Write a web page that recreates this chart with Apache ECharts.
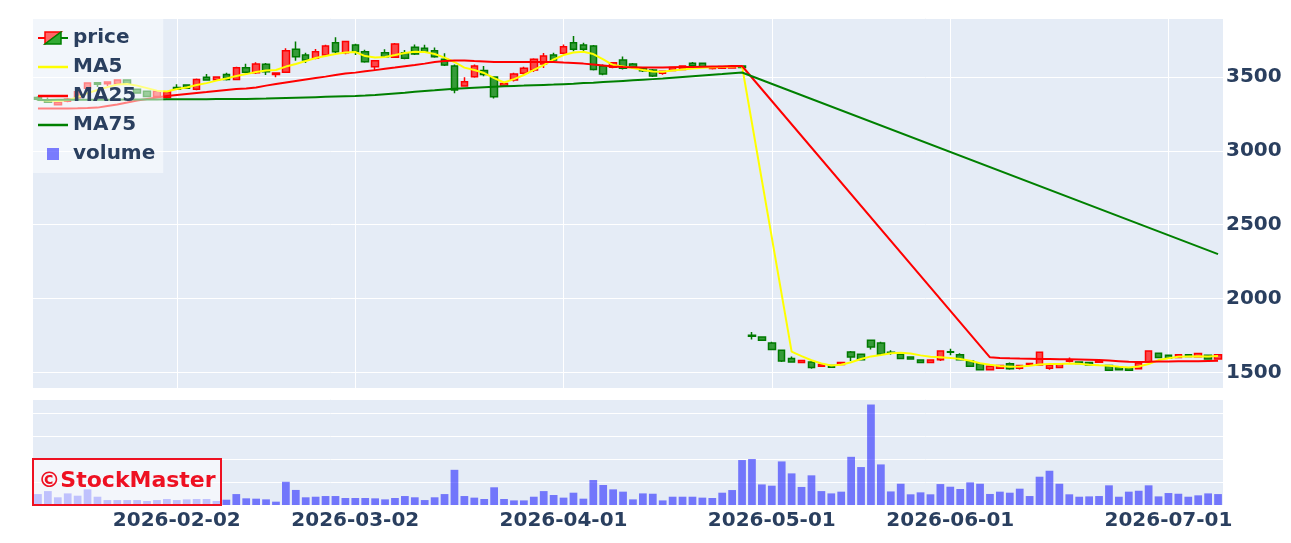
<!DOCTYPE html>
<html>
<head>
<meta charset="utf-8">
<title>StockMaster</title>
<script src="https://cdn.jsdelivr.net/npm/echarts@6/dist/echarts.min.js"></script>
<style>
    html, body { margin: 0; padding: 0; background: #fff; }
    #chart { width: 1291px; height: 543px; }
</style>
</head>
<body>
<div id="chart"></div>
<script>
// trading days (weekends and holidays are not on the axis)
var dates = [
    '2026-01-13','2026-01-14','2026-01-15','2026-01-16','2026-01-19','2026-01-20','2026-01-21','2026-01-22','2026-01-23','2026-01-26','2026-01-27','2026-01-28','2026-01-29','2026-01-30',
    '2026-02-02','2026-02-03','2026-02-04','2026-02-05','2026-02-06','2026-02-09','2026-02-10','2026-02-12','2026-02-13','2026-02-16','2026-02-17','2026-02-18','2026-02-19','2026-02-20','2026-02-24','2026-02-25','2026-02-26','2026-02-27',
    '2026-03-02','2026-03-03','2026-03-04','2026-03-05','2026-03-06','2026-03-09','2026-03-10','2026-03-11','2026-03-12','2026-03-13','2026-03-16','2026-03-17','2026-03-18','2026-03-19','2026-03-23','2026-03-24','2026-03-25','2026-03-26','2026-03-27','2026-03-30','2026-03-31',
    '2026-04-01','2026-04-02','2026-04-03','2026-04-06','2026-04-07','2026-04-08','2026-04-09','2026-04-10','2026-04-13','2026-04-14','2026-04-15','2026-04-16','2026-04-17','2026-04-20','2026-04-21','2026-04-22','2026-04-23','2026-04-24','2026-04-27','2026-04-28','2026-04-30',
    '2026-05-01','2026-05-07','2026-05-08','2026-05-11','2026-05-12','2026-05-13','2026-05-14','2026-05-15','2026-05-18','2026-05-19','2026-05-20','2026-05-21','2026-05-22','2026-05-25','2026-05-26','2026-05-27','2026-05-28','2026-05-29',
    '2026-06-01','2026-06-02','2026-06-03','2026-06-04','2026-06-05','2026-06-08','2026-06-09','2026-06-10','2026-06-11','2026-06-12','2026-06-15','2026-06-16','2026-06-17','2026-06-18','2026-06-19','2026-06-22','2026-06-23','2026-06-24','2026-06-25','2026-06-26','2026-06-29','2026-06-30',
    '2026-07-01','2026-07-02','2026-07-03','2026-07-06','2026-07-07','2026-07-08'
];
var tickDates = ['2026-02-02', '2026-03-02', '2026-04-01', '2026-05-01', '2026-06-01', '2026-07-01'];

var opens = [
    3362,3345,3312,3336,3360,3425,3462,3455,3455,3480, 3418,3404,3368,3362,3430,3446,3417,3498,3482,3518,
    3484,3563,3530,3586,3518,3532,3688,3650,3627,3650, 3733,3665,3717,3672,3570,3665,3634,3665,3702,3695,
    3678,3620,3575,3439,3502,3545,3500,3439,3480,3525, 3547,3588,3650,3661,3733,3717,3710,3575,3566,3615,
    3588,3559,3548,3525,3545,3552,3593,3593,3558,3560, 3562,3575,1752,1740,1699,1649,1593,1566,1570,1541,
    1547,1554,1638,1622,1717,1699,1636,1622,1604,1584, 1566,1586,1640,1620,1577,1559,1518,1527,1559,1527,
    1550,1550,1527,1532,1575,1570,1566,1568,1547,1532, 1530,1525,1570,1630,1615,1600,1620,1605,1615,1590
];
var closes = [
    3350,3330,3328,3352,3400,3460,3452,3466,3480,3452, 3392,3368,3404,3400,3417,3424,3484,3480,3500,3484,
    3563,3532,3588,3536,3528,3678,3638,3615,3672,3710, 3672,3740,3672,3604,3611,3638,3724,3627,3656,3672,
    3638,3582,3412,3468,3575,3517,3366,3457,3520,3559, 3620,3642,3615,3706,3688,3688,3552,3520,3597,3559,
    3566,3543,3507,3539,3565,3575,3577,3566,3570,3572, 3574,3565,1745,1717,1654,1577,1570,1581,1532,1554,
    1535,1566,1604,1586,1672,1622,1632,1593,1590,1566, 1584,1644,1636,1586,1541,1518,1541,1547,1525,1547,
    1560,1636,1550,1559,1580,1560,1550,1578,1514,1518, 1514,1563,1644,1600,1595,1620,1608,1627,1590,1620
];
var lows = [
    3340,3326,3308,3330,3355,3420,3432,3440,3450,3448, 3388,3364,3364,3355,3412,3420,3410,3476,3478,3476,
    3478,3525,3520,3514,3498,3528,3610,3595,3620,3640, 3661,3655,3650,3597,3547,3630,3630,3620,3650,3665,
    3630,3575,3390,3435,3495,3505,3355,3435,3470,3515, 3534,3561,3600,3655,3675,3675,3545,3513,3560,3552,
    3555,3534,3500,3515,3540,3548,3574,3562,3552,3555, 3558,3560,1722,1712,1650,1570,1566,1562,1525,1537,
    1532,1550,1577,1582,1654,1615,1620,1588,1586,1562, 1562,1577,1615,1580,1536,1514,1514,1522,1518,1520,
    1545,1545,1518,1528,1566,1556,1546,1564,1510,1514, 1510,1520,1565,1596,1592,1596,1604,1600,1586,1586
];
var highs = [
    3370,3362,3332,3358,3405,3465,3466,3470,3485,3484, 3422,3408,3408,3404,3452,3450,3490,3520,3504,3530,
    3570,3590,3600,3595,3531,3695,3740,3665,3690,3718, 3769,3745,3725,3685,3615,3688,3730,3683,3720,3718,
    3700,3661,3585,3498,3585,3575,3505,3468,3530,3570, 3627,3663,3665,3720,3778,3732,3717,3585,3600,3640,
    3595,3562,3555,3542,3568,3580,3602,3598,3574,3576, 3578,3580,1773,1745,1708,1655,1608,1584,1580,1557,
    1550,1570,1645,1628,1722,1708,1650,1630,1608,1588, 1588,1650,1660,1630,1582,1562,1545,1552,1566,1550,
    1565,1640,1554,1562,1600,1574,1570,1582,1552,1536, 1534,1566,1648,1634,1618,1624,1624,1632,1618,1624
];
var volumes = [
    95,121,67,101,81,136,72,43,43,43, 43,35,43,52,43,49,52,52,35,46,
    95,58,55,49,29,202,131,67,72,78, 78,61,61,61,58,49,61,78,67,43,
    67,95,306,78,64,52,154,52,40,40, 72,121,87,64,107,55,217,174,136,116,
    49,101,98,40,72,72,72,64,61,107, 130,391,400,179,168,379,275,157,258,121,
    101,116,419,330,874,353,118,185,93,110, 93,182,159,139,197,185,96,116,107,142,
    78,246,298,185,93,72,75,78,171,72, 116,124,171,75,104,98,72,84,101,95
];
// moving averages (null where the line is drawn straight across)
var ma5 = [
    3344,3341,3337,3344,3364,3391,3412,3432,3449,3453, 3442,3425,3408,3402,3419,3429,3446,3459,3476,3490,
    3507,3520,3534,3544,3548,3571,3588,3609,3629,3642, 3656,3666,3670,3642,3632,3636,3649,3663,3672,3670,
    3656,3632,3602,3564,3548,3527,3493,3463,3486,3514, 3548,3581,3619,3649,3666,3671,3656,3619,3581,3571,
    3561,3548,3537,3536,3544,3551,3558,3563,3566,3568, 3571,3575,null,null,null,null,1640,1610,1582,1560,
    1546,1552,1568,1590,1608,1618,1630,1632,1627,1615, 1606,1602,1598,1590,1578,1562,1551,1543,1538,1540,
    1545,1553,1556,1557,1560,1558,1552,1548,1545,1538, 1533,1540,1556,1583,1596,1605,1607,1609,1608,1610
];
var ma25 = [
    3287,3287,3287,3287,3288,3290,3293,3304,3314,3327, 3341,3351,3361,3371,3378,3385,3392,3398,3405,3412,
    3419,3423,3430,3442,3453,3463,3473,3483,3493,3503, 3514,3524,3530,3539,3547,3556,3564,3573,3581,3591,
    3602,3608,3612,3612,3608,3605,3602,3602,3602,3602, 3602,3602,3602,3598,3595,3591,3585,3578,3571,3568,
    3566,3564,3564,3564,3566,3568,3568,3570,3571,3572, 3575,3575,null,null,null,null,null,null,null,null,
    null,null,null,null,null,null,null,null,null,null, null,null,null,null,null,null,1602,1598,1595,1593,
    1592,1590,1590,1589,1588,1587,1586,1584,1580,1576, 1572,1570,1571,1573,1574,1575,1576,1576,1577,1578
];
var ma75 = [
    3345,3345,3346,3346,3346,3347,3347,3347,3347,3348, 3348,3348,3348,3349,3349,3349,3350,3350,3351,3351,
    3352,3352,3353,3354,3356,3358,3360,3362,3364,3366, 3368,3370,3372,3375,3379,3384,3389,3394,3400,3405,
    3410,3416,3421,3425,3428,3431,3434,3437,3440,3442, 3445,3447,3449,3452,3455,3459,3462,3466,3470,3474,
    3478,3482,3486,3490,3495,3500,3505,3510,3515,3520, 3526,3531,null,null,null,null,null,null,null,null,
    null,null,null,null,null,null,null,null,null,null, null,null,null,null,null,null,null,null,null,null,
    null,null,null,null,null,null,null,null,null,null, null,null,null,null,null,null,null,null,null,2301
];

var FONT = 'DejaVu Sans';
var INK = '#2a3f5f';

function svgIcon(body) {
    return 'image://data:image/svg+xml;charset=utf-8,' + encodeURIComponent(
        '<svg xmlns="http://www.w3.org/2000/svg" width="30" height="14" viewBox="0 0 30 14">' + body + '</svg>');
}
var priceIcon = svgIcon(
    '<line x1="0" y1="7" x2="7" y2="7" stroke="#ff0000" stroke-width="2"/>' +
    '<line x1="23" y1="7" x2="30" y2="7" stroke="#008000" stroke-width="2"/>' +
    '<polygon points="7,1 23,1 7,13" fill="#f66" stroke="#ff0000" stroke-width="1.5"/>' +
    '<polygon points="23,1 23,13 7,13" fill="#3a3" stroke="#008000" stroke-width="1.5"/>');
function lineIcon(color) {
    return svgIcon('<line x1="0" y1="7" x2="30" y2="7" stroke="' + color + '" stroke-width="2.5"/>');
}
var volumeIcon = svgIcon('<rect x="9" y="1" width="12" height="12" fill="rgba(0,0,255,0.5)"/>');

function isTick(value) {
    return tickDates.indexOf(value) >= 0;
}

var candles = dates.map(function (d, i) {
    return [opens[i], closes[i], lows[i], highs[i]];
});

var labelStyle = {
    fontFamily: FONT,
    fontSize: 20,
    fontWeight: 'bold',
    color: INK
};

var myChart = echarts.init(document.getElementById('chart'));
var option = {
    animation: false,
    backgroundColor: '#fff',
    textStyle: { fontFamily: FONT },
    legend: {
        orient: 'vertical',
        left: 33,
        top: 18,
        padding: [10, 8, 9, 5],
        itemGap: 9,
        itemWidth: 30,
        itemHeight: 14,
        backgroundColor: 'rgba(255,255,255,0.5)',
        selectedMode: false,
        textStyle: labelStyle,
        data: [
            { name: 'price', icon: priceIcon },
            { name: 'MA5', icon: lineIcon('#ffff00') },
            { name: 'MA25', icon: lineIcon('#ff0000') },
            { name: 'MA75', icon: lineIcon('#008000') },
            { name: 'volume', icon: volumeIcon }
        ]
    },
    grid: [
        { left: 33, right: 68, top: 18, height: 370, show: true, backgroundColor: '#e5ecf6', borderWidth: 0, containLabel: false, outerBoundsMode: 'none' },
        { left: 33, right: 68, top: 399, height: 106, show: true, backgroundColor: '#e5ecf6', borderWidth: 0, containLabel: false, outerBoundsMode: 'none' }
    ],
    xAxis: [
        {
            type: 'category', gridIndex: 0, data: dates,
            axisLine: { show: false }, axisTick: { show: false },
            axisLabel: { show: false }, splitLine: { show: false }
        },
        {
            type: 'category', gridIndex: 1, data: dates,
            axisLine: { show: false }, axisTick: { show: false },
            splitLine: { show: false },
            axisLabel: Object.assign({
                margin: 6,
                interval: function (index, value) { return isTick(value); }
            }, labelStyle)
        }
    ],
    yAxis: [
        {
            type: 'value', gridIndex: 0, position: 'right',
            min: 1394, max: 3900, splitNumber: 5,
            axisLine: { show: false }, axisTick: { show: false },
            axisLabel: Object.assign({
                margin: 3, showMinLabel: false, showMaxLabel: false,
                formatter: function (v) { return String(v); }
            }, labelStyle),
            splitLine: { lineStyle: { color: '#ffffff', width: 1 } }
        },
        {
            type: 'value', gridIndex: 1, position: 'right',
            min: 0, max: 922, interval: 200,
            axisLine: { show: false }, axisTick: { show: false },
            axisLabel: { show: false },
            splitLine: { lineStyle: { color: '#ffffff', width: 1 } }
        }
    ],
    series: [
        {
            name: 'price',
            type: 'candlestick',
            xAxisIndex: 0, yAxisIndex: 0,
            data: candles,
            barWidth: '70%',
            itemStyle: {
                color: 'rgba(255,30,30,0.8)',
                color0: 'rgba(10,135,10,0.8)',
                borderColor: '#ff0000',
                borderColor0: '#007a00',
                borderWidth: 1.5
            },
            // vertical grid lines at the labelled dates, kept under the candles
            markLine: {
                z: 1,
                silent: true,
                symbol: ['none', 'none'],
                label: { show: false },
                lineStyle: { color: '#ffffff', width: 1, type: 'solid' },
                emphasis: { disabled: true },
                data: tickDates.map(function (d) { return { xAxis: d }; })
            }
        },
        {
            name: 'MA5', type: 'line', xAxisIndex: 0, yAxisIndex: 0,
            data: ma5, symbol: 'none', showSymbol: false, connectNulls: true,
            lineStyle: { color: '#ffff00', width: 2 }, itemStyle: { color: '#ffff00' }
        },
        {
            name: 'MA25', type: 'line', xAxisIndex: 0, yAxisIndex: 0,
            data: ma25, symbol: 'none', showSymbol: false, connectNulls: true,
            lineStyle: { color: '#ff0000', width: 2 }, itemStyle: { color: '#ff0000' }
        },
        {
            name: 'MA75', type: 'line', xAxisIndex: 0, yAxisIndex: 0,
            data: ma75, symbol: 'none', showSymbol: false, connectNulls: true,
            lineStyle: { color: '#008000', width: 2 }, itemStyle: { color: '#008000' }
        },
        {
            name: 'volume', type: 'bar', xAxisIndex: 1, yAxisIndex: 1,
            data: volumes, barWidth: '78%',
            itemStyle: { color: 'rgba(0,0,255,0.5)' }
        }
    ],
    graphic: [
        {
            type: 'rect', z: 100, silent: true,
            shape: { x: 33, y: 459, width: 188, height: 46 },
            style: { fill: 'rgba(255,255,255,0.55)', stroke: '#ee1122', lineWidth: 2 }
        },
        {
            type: 'text', z: 101, silent: true,
            x: 127, y: 481,
            style: {
                text: '©StockMaster',
                fill: '#ee1122',
                font: 'bold 22px "DejaVu Sans"',
                align: 'center',
                verticalAlign: 'middle'
            }
        }
    ]
};
myChart.setOption(option);
</script>
</body>
</html>
